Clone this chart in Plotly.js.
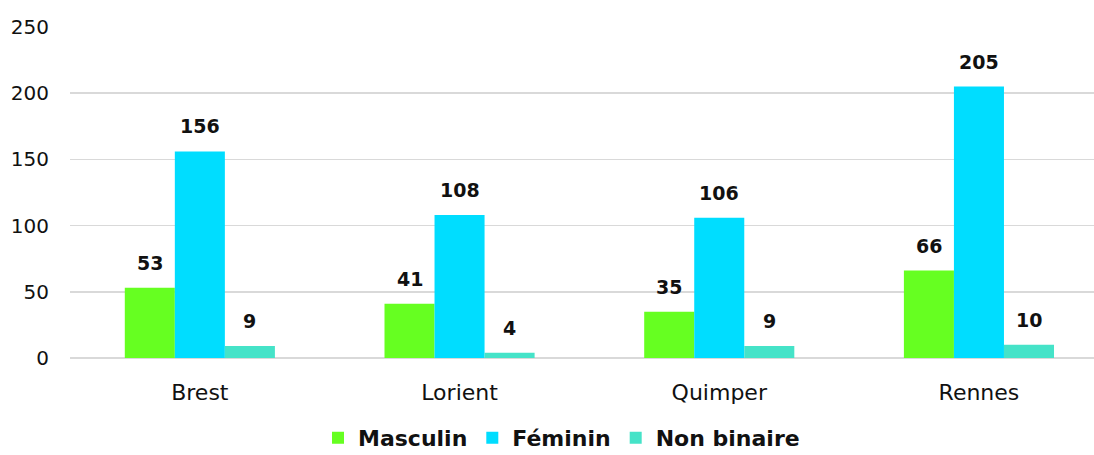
<!DOCTYPE html>
<html><head><meta charset="utf-8">
<script src="https://cdn.plot.ly/plotly-3.0.1.min.js"></script>
<style>html,body{margin:0;padding:0;background:#fff}#chart{width:1094px;height:455px}</style>
</head><body><div id="chart"></div>
<script>
const categories = ['Brest', 'Lorient', 'Quimper', 'Rennes'];
const seriesNames = ['Masculin', 'Féminin', 'Non binaire'];
const masculin = [53, 41, 35, 66];
const feminin = [156, 108, 106, 205];
const nonBinaire = [9, 4, 9, 10];
const yTicks = [0, 50, 100, 150, 200, 250];

const colors = ['#66FF21', '#00DDFF', '#45E3C8'];
const values = [masculin, feminin, nonBinaire];
const FONT = 'DejaVu Sans, Liberation Sans, sans-serif';

const traces = values.map((v, i) => ({
  type: 'bar', name: seriesNames[i], x: categories, y: v,
  marker: {color: colors[i]}, hoverinfo: 'skip'
}));

const shifts = [-50, 0, 50];
const annotations = [];
values.forEach((v, i) => v.forEach((val, j) => annotations.push({
  x: categories[j], y: val, xref: 'x', yref: 'y', text: String(val),
  showarrow: false, yanchor: 'bottom', xanchor: 'center', xshift: shifts[i], yshift: 12,
  font: {family: FONT, size: 19, color: '#111', weight: 'bold'}
})));

const layout = {
  width: 1094, height: 455,
  margin: {l: 70, r: 0, t: 26.5, b: 97.3, pad: 0, autoexpand: false},
  paper_bgcolor: '#fff', plot_bgcolor: '#fff',
  barmode: 'group', bargap: 0.422, bargroupgap: 0,
  font: {family: FONT, color: '#111'},
  xaxis: {range: [-0.5, 3.443], tickfont: {size: 22, color: '#111'}, showgrid: false,
          showline: false, zeroline: false, ticks: '', ticklabelstandoff: 19, fixedrange: true},
  yaxis: {range: [0, 250], tickvals: yTicks, ticktext: yTicks.map(String),
          tickfont: {size: 20, color: '#111'}, gridcolor: '#d9d9d9', gridwidth: 1.5,
          zeroline: true, zerolinecolor: '#d9d9d9', zerolinewidth: 1.5,
          showline: false, ticks: '', ticklabelstandoff: 20, fixedrange: true},
  showlegend: true,
  legend: {orientation: 'h', x: 0.48, xanchor: 'center', y: -0.305, yanchor: 'bottom',
           font: {family: FONT, size: 22, color: '#111', weight: 'bold'}, itemclick: false, itemdoubleclick: false},
  annotations: annotations
};

Plotly.newPlot('chart', traces, layout, {displayModeBar: false, staticPlot: true});
</script></body></html>
